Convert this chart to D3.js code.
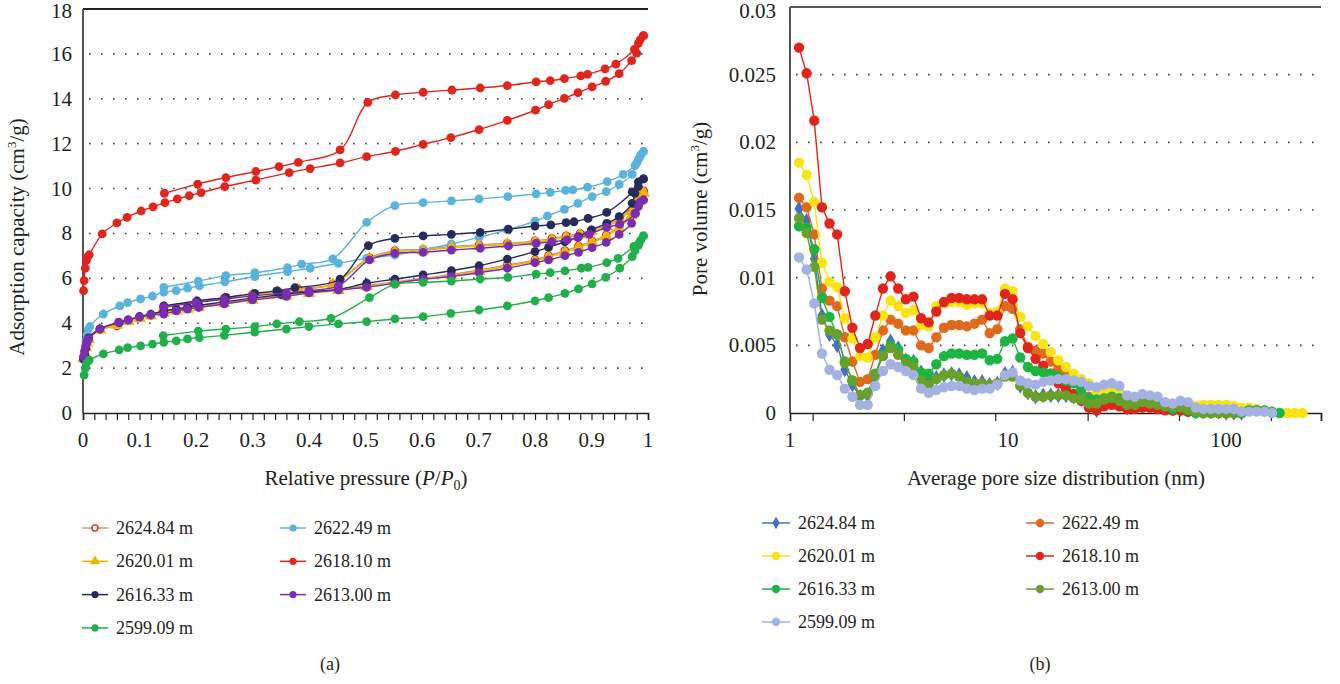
<!DOCTYPE html>
<html>
<head>
<meta charset="utf-8">
<script src="https://cdn.jsdelivr.net/npm/d3@7"></script>
<style>
  body { margin: 0; background: #fff; }
</style>
</head>
<body>
<div id="vizContainer"></div>
<script>
let w = 1340;
let h = 684;

// ---------- panel (a): isotherms, [P/P0, cm3/g] ----------
let samples = ["2624.84 m", "2622.49 m", "2620.01 m", "2618.10 m", "2616.33 m", "2613.00 m", "2599.09 m"];

let ads262484 = [[0.001,2.45],[0.003,2.7],[0.005,2.95],[0.007,3.15],[0.01,3.3],[0.03,3.72],[0.06,3.88],[0.08,4.1],[0.1,4.25],[0.12,4.35],[0.143,4.5],[0.165,4.58],[0.185,4.66],[0.205,4.74],[0.25,4.9],[0.3,5.07],[0.36,5.25],[0.4,5.38],[0.452,5.5],[0.502,5.68],[0.552,5.84],[0.602,6.0],[0.652,6.17],[0.701,6.37],[0.751,6.6],[0.8,6.82],[0.824,7.01],[0.853,7.23],[0.877,7.44],[0.901,7.66],[0.926,7.93],[0.949,8.33],[0.971,8.9],[0.977,9.3],[0.983,9.6],[0.992,9.9]];
let des262484 = [[0.992,9.9],[0.985,9.75],[0.975,9.3],[0.95,8.7],[0.927,8.37],[0.9,8.15],[0.88,8.0],[0.855,7.89],[0.83,7.78],[0.8,7.67],[0.751,7.56],[0.701,7.49],[0.652,7.42],[0.602,7.29],[0.552,7.23],[0.507,6.92],[0.442,5.75],[0.38,5.55],[0.345,5.43],[0.3,5.28],[0.25,5.12],[0.2,4.95],[0.143,4.72]];

let ads262249 = [[0.004,2.88],[0.005,3.18],[0.007,3.48],[0.009,3.7],[0.012,3.85],[0.036,4.41],[0.065,4.77],[0.079,4.92],[0.102,5.08],[0.123,5.21],[0.143,5.38],[0.165,5.45],[0.185,5.56],[0.206,5.66],[0.251,5.84],[0.304,6.08],[0.362,6.3],[0.402,6.45],[0.452,6.67],[0.502,6.89],[0.552,7.04],[0.602,7.29],[0.652,7.53],[0.701,7.83],[0.751,8.16],[0.8,8.55],[0.822,8.78],[0.852,9.07],[0.876,9.34],[0.901,9.64],[0.926,9.86],[0.949,10.19],[0.972,10.63],[0.977,11.02],[0.983,11.3],[0.987,11.5],[0.992,11.65]];
let des262249 = [[0.992,11.65],[0.986,11.42],[0.98,11.13],[0.956,10.63],[0.928,10.31],[0.893,10.06],[0.867,9.94],[0.854,9.92],[0.827,9.83],[0.802,9.76],[0.752,9.64],[0.701,9.54],[0.652,9.45],[0.602,9.37],[0.552,9.24],[0.502,8.49],[0.442,6.87],[0.387,6.63],[0.362,6.48],[0.304,6.25],[0.253,6.12],[0.204,5.88],[0.143,5.6]];

let ads262001 = [[0.001,2.42],[0.003,2.68],[0.005,2.92],[0.007,3.12],[0.01,3.28],[0.03,3.7],[0.06,3.92],[0.08,4.08],[0.1,4.22],[0.12,4.33],[0.143,4.46],[0.165,4.55],[0.185,4.63],[0.205,4.71],[0.25,4.87],[0.3,5.03],[0.36,5.21],[0.4,5.33],[0.452,5.46],[0.502,5.64],[0.552,5.8],[0.602,5.95],[0.652,6.12],[0.701,6.31],[0.751,6.54],[0.8,6.77],[0.824,6.95],[0.853,7.16],[0.877,7.37],[0.901,7.6],[0.926,7.87],[0.949,8.25],[0.971,8.8],[0.977,9.2],[0.983,9.5],[0.992,9.8]];
let des262001 = [[0.992,9.8],[0.985,9.65],[0.975,9.2],[0.95,8.62],[0.927,8.3],[0.9,8.08],[0.88,7.94],[0.855,7.83],[0.83,7.72],[0.8,7.62],[0.751,7.51],[0.701,7.44],[0.652,7.37],[0.602,7.24],[0.552,7.18],[0.507,6.88],[0.442,5.72],[0.38,5.5],[0.345,5.39],[0.3,5.24],[0.25,5.08],[0.2,4.92],[0.143,4.69]];

let ads261810 = [[0.001,5.45],[0.002,5.9],[0.004,6.45],[0.006,6.8],[0.008,6.95],[0.011,7.05],[0.034,7.98],[0.06,8.47],[0.078,8.72],[0.103,9.0],[0.124,9.18],[0.145,9.37],[0.167,9.54],[0.188,9.68],[0.209,9.82],[0.251,10.09],[0.306,10.38],[0.365,10.71],[0.402,10.89],[0.455,11.14],[0.502,11.42],[0.553,11.66],[0.602,11.97],[0.651,12.27],[0.701,12.63],[0.751,13.04],[0.801,13.49],[0.824,13.74],[0.852,14.02],[0.876,14.27],[0.901,14.53],[0.925,14.78],[0.949,15.12],[0.971,15.7],[0.98,16.03],[0.986,16.62],[0.992,16.81]];
let des261810 = [[0.992,16.81],[0.983,16.47],[0.976,16.2],[0.943,15.54],[0.924,15.33],[0.893,15.09],[0.881,15.02],[0.852,14.9],[0.827,14.81],[0.802,14.75],[0.751,14.59],[0.703,14.48],[0.653,14.39],[0.602,14.29],[0.553,14.17],[0.504,13.84],[0.455,11.72],[0.381,11.17],[0.347,10.98],[0.306,10.76],[0.253,10.49],[0.203,10.2],[0.144,9.79]];

let ads261633 = [[0.001,2.4],[0.003,2.6],[0.005,2.9],[0.007,3.15],[0.01,3.35],[0.03,3.75],[0.064,4.03],[0.08,4.15],[0.1,4.3],[0.12,4.4],[0.143,4.55],[0.165,4.63],[0.185,4.72],[0.205,4.8],[0.25,4.95],[0.3,5.12],[0.35,5.27],[0.4,5.4],[0.452,5.51],[0.502,5.78],[0.552,5.96],[0.602,6.15],[0.652,6.34],[0.701,6.56],[0.751,6.86],[0.8,7.19],[0.824,7.38],[0.853,7.63],[0.877,7.86],[0.9,8.16],[0.927,8.45],[0.949,8.75],[0.972,9.34],[0.977,9.79],[0.983,10.1],[0.992,10.43]];
let des261633 = [[0.992,10.43],[0.983,10.3],[0.972,9.85],[0.927,8.94],[0.894,8.67],[0.869,8.52],[0.855,8.48],[0.828,8.38],[0.8,8.33],[0.753,8.19],[0.703,8.05],[0.652,7.96],[0.602,7.89],[0.552,7.78],[0.505,7.46],[0.455,5.96],[0.375,5.58],[0.343,5.44],[0.304,5.33],[0.253,5.15],[0.202,4.99],[0.143,4.77]];

let ads261300 = [[0.001,2.5],[0.003,2.75],[0.005,3.0],[0.007,3.2],[0.01,3.3],[0.03,3.75],[0.063,4.05],[0.08,4.15],[0.1,4.27],[0.12,4.37],[0.143,4.41],[0.165,4.55],[0.185,4.63],[0.205,4.7],[0.25,4.86],[0.3,5.04],[0.36,5.2],[0.4,5.35],[0.452,5.48],[0.502,5.6],[0.552,5.78],[0.602,5.96],[0.652,6.08],[0.701,6.25],[0.751,6.45],[0.8,6.7],[0.824,6.82],[0.853,7.01],[0.877,7.16],[0.901,7.37],[0.926,7.6],[0.949,7.96],[0.971,8.45],[0.977,8.89],[0.983,9.2],[0.992,9.49]];
let des261300 = [[0.992,9.49],[0.986,9.4],[0.978,8.89],[0.95,8.42],[0.927,8.27],[0.896,7.96],[0.876,7.81],[0.857,7.71],[0.83,7.63],[0.802,7.56],[0.753,7.44],[0.703,7.34],[0.652,7.26],[0.602,7.16],[0.552,7.11],[0.507,6.82],[0.452,5.66],[0.4,5.45],[0.36,5.35],[0.3,5.22],[0.25,5.07],[0.2,4.92],[0.143,4.72]];

let ads259909 = [[0.002,1.69],[0.004,1.99],[0.006,2.2],[0.011,2.36],[0.036,2.63],[0.064,2.81],[0.079,2.91],[0.102,2.99],[0.123,3.07],[0.143,3.15],[0.165,3.21],[0.185,3.3],[0.206,3.36],[0.25,3.46],[0.304,3.6],[0.36,3.74],[0.4,3.85],[0.452,3.97],[0.502,4.07],[0.552,4.19],[0.602,4.29],[0.651,4.44],[0.701,4.59],[0.751,4.77],[0.8,5.0],[0.824,5.14],[0.853,5.33],[0.877,5.53],[0.901,5.75],[0.925,6.04],[0.95,6.45],[0.972,6.97],[0.977,7.23],[0.983,7.47],[0.987,7.7],[0.992,7.89]];
let des259909 = [[0.992,7.89],[0.984,7.57],[0.975,7.42],[0.947,6.89],[0.927,6.7],[0.894,6.49],[0.882,6.45],[0.853,6.33],[0.827,6.25],[0.802,6.19],[0.752,6.04],[0.703,5.97],[0.652,5.88],[0.602,5.82],[0.552,5.73],[0.507,5.14],[0.439,4.22],[0.383,4.07],[0.343,3.97],[0.304,3.85],[0.253,3.74],[0.204,3.65],[0.142,3.45]];

let isoAds = [ads262484, ads262249, ads262001, ads261810, ads261633, ads261300, ads259909];
let isoDes = [des262484, des262249, des262001, des261810, des261633, des261300, des259909];

// ---------- panel (b): pore size distribution ----------
let poreSizes = [1.10,1.192,1.292,1.401,1.518,1.646,1.784,1.933,2.096,2.272,2.462,2.669,2.893,3.136,3.399,3.684,3.993,4.328,4.691,5.085,5.512,5.974,6.476,7.019,7.608,8.247,8.939,9.689,10.50,11.38,12.34,13.38,14.50,15.71,17.03,18.46,20.01,21.69,23.51,25.48,27.62,29.94,32.45,35.18,38.13,41.33,44.80,48.56,52.63,57.05,61.84,67.03,72.65,78.75,85.36,92.52,100.3,108.7,117.8,127.7,138.4,150.0,162.6,176.3,191.1,207.1,224.5];

let pv262484 = [0.0151,0.0142,0.0114,0.0072,0.0058,0.0050,0.0032,0.0021,0.0012,0.0013,0.0027,0.0046,0.0053,0.0048,0.0039,0.0038,0.0030,0.0024,0.0026,0.0028,0.0029,0.0028,0.0026,0.0023,0.0023,0.0021,0.0022,0.0029,0.0030,0.0020,0.0015,0.0012,0.0013,0.0013,0.0013,0.0013,0.0012,0.0010,0.0005,0.0002,0.0007,0.0009,0.0008,0.0004,0.0005,0.0007,0.0006,0.0005,0.0004,0.0003,0.0003,0.0002,0.0001,0.0001,0.0001,0.0001,0.0000,0.0000,0.0000];
let pv262249 = [0.0159,0.0152,0.0132,0.0092,0.0083,0.0079,0.0056,0.0038,0.0023,0.0025,0.0043,0.0061,0.0069,0.0066,0.0061,0.0061,0.0050,0.0048,0.0056,0.0063,0.0065,0.0065,0.0064,0.0066,0.0069,0.0059,0.0062,0.0079,0.0077,0.0062,0.0049,0.0046,0.0044,0.0038,0.0033,0.0028,0.0023,0.0019,0.0012,0.0006,0.0009,0.0009,0.0008,0.0004,0.0003,0.0005,0.0004,0.0003,0.0003,0.0002,0.0002,0.0001,0.0001,0.0001,0.0001,0.0001,0.0000,0.0000,0.0000];
let pv262001 = [0.0185,0.0176,0.0156,0.0111,0.0097,0.0093,0.0070,0.0055,0.0042,0.0041,0.0056,0.0072,0.0083,0.0079,0.0074,0.0076,0.0065,0.0064,0.0079,0.0081,0.0082,0.0082,0.0080,0.0081,0.0081,0.0074,0.0075,0.0092,0.0090,0.0071,0.0064,0.0057,0.0051,0.0045,0.0039,0.0034,0.0029,0.0025,0.0022,0.0016,0.0017,0.0017,0.0014,0.0010,0.0009,0.0010,0.0009,0.0007,0.0006,0.0005,0.0005,0.0004,0.0005,0.0006,0.0006,0.0006,0.0006,0.0005,0.0004,0.0004,0.0003,0.0001,0.0001,0.0000,0.0000,0.0000,0.0000];
let pv261810 = [0.0270,0.0251,0.0216,0.0152,0.0140,0.0132,0.0090,0.0063,0.0048,0.0051,0.0072,0.0092,0.0101,0.0092,0.0084,0.0086,0.0070,0.0067,0.0075,0.0082,0.0085,0.0085,0.0084,0.0084,0.0084,0.0072,0.0072,0.0088,0.0084,0.0059,0.0048,0.0040,0.0035,0.0029,0.0022,0.0018,0.0014,0.0009,0.0004,0.0002,0.0005,0.0006,0.0005,0.0003,0.0003,0.0004,0.0004,0.0003,0.0002,0.0002,0.0002,0.0001,0.0001,0.0001,0.0001,0.0000,0.0000,0.0000,0.0000];
let pv261633 = [0.0138,0.0137,0.0121,0.0085,0.0071,0.0058,0.0038,0.0024,0.0013,0.0015,0.0029,0.0043,0.0050,0.0047,0.0040,0.0038,0.0030,0.0029,0.0036,0.0042,0.0044,0.0044,0.0043,0.0043,0.0044,0.0039,0.0040,0.0053,0.0055,0.0041,0.0034,0.0031,0.0030,0.0029,0.0027,0.0024,0.0022,0.0017,0.0011,0.0010,0.0011,0.0012,0.0011,0.0008,0.0008,0.0010,0.0008,0.0007,0.0007,0.0003,0.0005,0.0002,0.0000,0.0000,0.0000,0.0000,0.0000,0.0000,0.0000,0.0002,0.0002,0.0002,0.0001,0.0000];
let pv261300 = [0.0144,0.0133,0.0108,0.0069,0.0061,0.0058,0.0037,0.0024,0.0013,0.0014,0.0028,0.0042,0.0048,0.0043,0.0037,0.0034,0.0024,0.0021,0.0025,0.0028,0.0029,0.0027,0.0023,0.0022,0.0022,0.0021,0.0022,0.0027,0.0027,0.0020,0.0015,0.0012,0.0012,0.0013,0.0013,0.0013,0.0011,0.0010,0.0007,0.0007,0.0010,0.0011,0.0009,0.0006,0.0006,0.0008,0.0007,0.0006,0.0005,0.0005,0.0004,0.0003,0.0001,0.0000,0.0000,0.0000,0.0000,0.0000];
let pv259909 = [0.0115,0.0106,0.0081,0.0044,0.0032,0.0028,0.0018,0.0012,0.0006,0.0006,0.0020,0.0031,0.0036,0.0034,0.0031,0.0028,0.0018,0.0015,0.0017,0.0019,0.0020,0.0020,0.0018,0.0017,0.0018,0.0018,0.0021,0.0028,0.0030,0.0024,0.0022,0.0021,0.0023,0.0024,0.0025,0.0025,0.0024,0.0023,0.0020,0.0019,0.0021,0.0022,0.0020,0.0013,0.0012,0.0014,0.0013,0.0012,0.0008,0.0007,0.0009,0.0008,0.0004,0.0003,0.0003,0.0003,0.0003,0.0003,0.0001,0.0001,0.0001,0.0001,0.0000];

let psd = [pv262484, pv262249, pv262001, pv261810, pv261633, pv261300, pv259909];

let pressTickLabels = [0, 0.1, 0.2, 0.3, 0.4, 0.5, 0.6, 0.7, 0.8, 0.9, 1];
let adsTicks = [0, 2, 4, 6, 8, 10, 12, 14, 16, 18];
let poreTickLabels = [1, 10, 100];
let poreTickMarks = [1.27, 3.33, 8.74, 23.2, 60.9, 160.8];
let pvTicks = [0, 0.005, 0.01, 0.015, 0.02, 0.025, 0.03];

// colours & markers
let isoLine = ["#c9a063", "#5ab2de", "#f0b400", "#e1251b", "#262b5c", "#7b2cb2", "#1fb04a"];
let isoMark = ["#e1251b", "#5ab2de", "#f0b400", "#e1251b", "#262b5c", "#7b2cb2", "#1fb04a"];
let isoShape = ["open", "circle", "triangle", "circle", "circle", "circle", "circle"];
let psdColor = ["#4370c0", "#e06a1c", "#fbe312", "#e1251b", "#1db541", "#68a02a", "#a3b2e2"];
let psdShape = ["diamond", "circle", "circle", "circle", "circle", "circle", "circle"];

let serif = "'Liberation Serif', 'Times New Roman', 'DejaVu Serif', serif";
let tickFs = 21;   // tick labels
let titleFs = 21;  // axis titles
let legFs = 18;    // legend & captions

let viz = d3.select("#vizContainer")
  .append("svg")
  .attr("width", w)
  .attr("height", h)
  .attr("font-family", serif)
  .style("font-family", serif)
  .style("background-color", "white");

// ================= panel (a) =================
let xL = d3.scaleLinear().domain([0, 1]).range([83, 648]);
let yL = d3.scaleLinear().domain([0, 18]).range([413, 9]);

let gA = viz.append("g").attr("class", "panelA");

gA.selectAll(".grid")
  .data(adsTicks.filter(d => d > 0 && d < 18))
  .enter().append("line")
  .attr("x1", xL(0) + 6).attr("x2", xL(1))
  .attr("y1", d => yL(d)).attr("y2", d => yL(d))
  .attr("stroke", "#444").attr("stroke-width", 1.6)
  .attr("stroke-dasharray", "1.6,10.4");

gA.append("line").attr("x1", xL(0)).attr("x2", xL(1)).attr("y1", yL(18)).attr("y2", yL(18))
  .attr("stroke", "#222").attr("stroke-width", 2);
gA.append("line").attr("x1", xL(0)).attr("x2", xL(0)).attr("y1", yL(18)).attr("y2", yL(0))
  .attr("stroke", "#555").attr("stroke-width", 2);

let xAxisA = gA.append("g").attr("transform", "translate(0," + yL(0) + ")")
  .call(d3.axisBottom(xL).tickValues(d3.range(0, 50.5, 1).map(d => d / 50)).tickSize(7).tickFormat(""));
xAxisA.select(".domain").attr("stroke", "#222").attr("stroke-width", 1.6);
xAxisA.selectAll(".tick line").attr("stroke", "#222").attr("stroke-width", 1.2);

function label(g, x, y, anchor, txt, size) {
  return g.append("text").attr("x", x).attr("y", y).attr("text-anchor", anchor)
    .attr("font-size", size).attr("fill", "#231f20").text(txt);
}

pressTickLabels.forEach(d => label(gA, xL(d), 447, "middle", d, tickFs));
adsTicks.forEach(d => label(gA, 72, Math.max(yL(d) + 7, 18), "end", d, tickFs));

let yTitleA = gA.append("text").attr("transform", "translate(24,237) rotate(-90)")
  .attr("text-anchor", "middle").attr("font-size", titleFs).attr("fill", "#231f20");
yTitleA.append("tspan").text("Adsorption capacity (cm");
yTitleA.append("tspan").attr("font-size", 13).attr("dy", -8).text("3");
yTitleA.append("tspan").attr("dy", 8).text("/g)");

let xTitleA = gA.append("text").attr("x", 366).attr("y", 485).attr("text-anchor", "middle")
  .attr("font-size", titleFs).attr("fill", "#231f20");
xTitleA.append("tspan").text("Relative pressure (");
xTitleA.append("tspan").attr("font-style", "italic").text("P");
xTitleA.append("tspan").text("/");
xTitleA.append("tspan").attr("font-style", "italic").text("P");
xTitleA.append("tspan").attr("font-size", 14).attr("dy", 5).text("0");
xTitleA.append("tspan").attr("dy", -5).text(")");

let smooth = d3.line().x(d => xL(d[0])).y(d => yL(d[1])).curve(d3.curveCatmullRom.alpha(0.5));

function drawMarker(g, shape, cx, cy, size, fill) {
  if (shape === "open") {
    g.append("circle").attr("cx", cx).attr("cy", cy).attr("r", size * 0.85)
      .attr("fill", "white").attr("stroke", fill).attr("stroke-width", 1.3);
  } else if (shape === "triangle") {
    g.append("path").attr("transform", "translate(" + cx + "," + cy + ")")
      .attr("d", d3.symbol().type(d3.symbolTriangle).size(size * size * 3.6)).attr("fill", fill);
  } else if (shape === "diamond") {
    g.append("path").attr("transform", "translate(" + cx + "," + cy + ")")
      .attr("d", d3.symbol().type(d3.symbolDiamond).size(size * size * 2.6)).attr("fill", fill);
  } else {
    g.append("circle").attr("cx", cx).attr("cy", cy).attr("r", size).attr("fill", fill);
  }
}

let plotA = gA.append("g").attr("class", "plotA");
samples.forEach((s, i) => {
  let pts = isoAds[i].concat(isoDes[i].slice(1));
  let sg = plotA.append("g");
  sg.append("path").attr("d", smooth(pts)).attr("fill", "none")
    .attr("stroke", isoLine[i]).attr("stroke-width", 1.4);
  isoAds[i].concat(isoDes[i]).forEach(p => drawMarker(sg, isoShape[i], xL(p[0]), yL(p[1]), 4.4, isoMark[i]));
});

// legend (a)
let legA = gA.append("g");
samples.forEach((s, i) => {
  let col = i % 2, row = Math.floor(i / 2);
  let lx = 82 + col * 198, ly = 528 + row * 33.3;
  legA.append("line").attr("x1", lx).attr("x2", lx + 26).attr("y1", ly).attr("y2", ly)
    .attr("stroke", isoLine[i]).attr("stroke-width", 1.5);
  drawMarker(legA, isoShape[i], lx + 13, ly, 3.6, isoMark[i]);
  label(legA, lx + 34, ly + 6, "start", s, legFs);
});
label(gA, 330, 670, "middle", "(a)", legFs);

// ================= panel (b) =================
let xR = d3.scaleLog().domain([1, 273]).range([790, 1321]);
let yR = d3.scaleLinear().domain([0, 0.03]).range([413, 7]);

let gB = viz.append("g").attr("class", "panelB");

gB.selectAll(".grid")
  .data(pvTicks.filter(d => d > 0 && d < 0.03))
  .enter().append("line")
  .attr("x1", xR(1) + 6).attr("x2", xR(273))
  .attr("y1", d => yR(d)).attr("y2", d => yR(d))
  .attr("stroke", "#444").attr("stroke-width", 1.6)
  .attr("stroke-dasharray", "1.6,10.4");

gB.append("line").attr("x1", xR(1)).attr("x2", xR(273)).attr("y1", yR(0.03)).attr("y2", yR(0.03))
  .attr("stroke", "#555").attr("stroke-width", 2);
gB.append("line").attr("x1", xR(1)).attr("x2", xR(1)).attr("y1", yR(0.03)).attr("y2", yR(0))
  .attr("stroke", "#555").attr("stroke-width", 2);

let xAxisB = gB.append("g").attr("transform", "translate(0," + yR(0) + ")")
  .call(d3.axisBottom(xR).tickValues(poreTickMarks.concat([273])).tickSize(8).tickFormat(""));
xAxisB.select(".domain").attr("stroke", "#222").attr("stroke-width", 1.6);
xAxisB.selectAll(".tick line").attr("stroke", "#222").attr("stroke-width", 1.2);

poreTickLabels.forEach(d => label(gB, xR(d), 447, "middle", d, tickFs));
pvTicks.forEach(d => label(gB, 776, Math.max(yR(d) + 7, 18), "end", d, tickFs));

let yTitleB = gB.append("text").attr("transform", "translate(707,209) rotate(-90)")
  .attr("text-anchor", "middle").attr("font-size", titleFs).attr("fill", "#231f20");
yTitleB.append("tspan").text("Pore volume (cm");
yTitleB.append("tspan").attr("font-size", 13).attr("dy", -8).text("3");
yTitleB.append("tspan").attr("dy", 8).text("/g)");

label(gB, 1056, 485, "middle", "Average pore size distribution (nm)", titleFs);

let straight = d3.line().x(d => xR(d[0])).y(d => yR(d[1]));

let plotB = gB.append("g").attr("class", "plotB");
samples.forEach((s, i) => {
  let pts = psd[i].map((v, k) => [poreSizes[k], v]);
  let sg = plotB.append("g");
  sg.append("path").attr("d", straight(pts)).attr("fill", "none")
    .attr("stroke", psdColor[i]).attr("stroke-width", 1.4);
  pts.forEach(p => drawMarker(sg, psdShape[i], xR(p[0]), yR(p[1]), 5.2, psdColor[i]));
});

// legend (b)
let legB = gB.append("g");
samples.forEach((s, i) => {
  let col = i % 2, row = Math.floor(i / 2);
  let lx = 762 + col * 264, ly = 523 + row * 33;
  legB.append("line").attr("x1", lx).attr("x2", lx + 28).attr("y1", ly).attr("y2", ly)
    .attr("stroke", psdColor[i]).attr("stroke-width", 1.5);
  drawMarker(legB, psdShape[i], lx + 14, ly, 4.2, psdColor[i]);
  label(legB, lx + 36, ly + 6, "start", s, legFs);
});
label(gB, 1040, 670, "middle", "(b)", legFs);
</script>
</body>
</html>
